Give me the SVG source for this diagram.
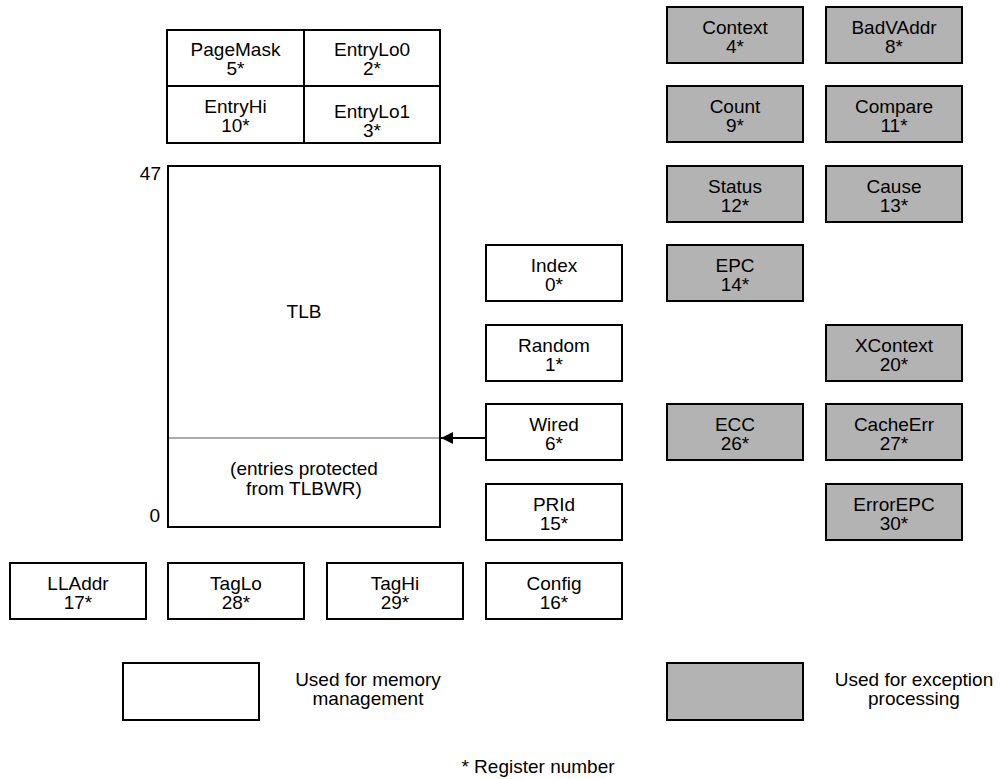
<svg xmlns="http://www.w3.org/2000/svg" width="1001" height="779" viewBox="0 0 1001 779">
<style>
.b{fill:#fff;stroke:#000;stroke-width:2}
.g{fill:#b3b3b3;stroke:#000;stroke-width:2}
text{font-family:"Liberation Sans",Arial,sans-serif;font-size:19px;fill:#000;text-anchor:middle}
.r{text-anchor:end}
</style>
<defs>
<marker id="ah" markerWidth="12" markerHeight="12" refX="12" refY="6" orient="auto" markerUnits="userSpaceOnUse">
<path d="M0,0 L12,6 L0,12 Z" fill="#000"/>
</marker>
</defs>
<rect width="1001" height="779" fill="#fff"/>

<g id="PageMask"><rect class="b" x="167" y="30" width="137" height="56"/><text x="235.5" y="56">PageMask</text><text x="235.5" y="75">5*</text></g>
<g id="EntryLo0"><rect class="b" x="304" y="30" width="136" height="56"/><text x="372" y="56">EntryLo0</text><text x="372" y="75">2*</text></g>
<g id="EntryHi"><rect class="b" x="167" y="86" width="137" height="57"/><text x="235.5" y="113">EntryHi</text><text x="235.5" y="132">10*</text></g>
<g id="EntryLo1"><rect class="b" x="304" y="86" width="136" height="57"/><text x="372" y="118">EntryLo1</text><text x="372" y="137">3*</text></g>

<g id="TLB">
<rect class="b" x="168" y="166" width="272" height="361"/>
<line x1="169" y1="438" x2="439" y2="438" stroke="#aaa" stroke-width="2"/>
<text x="304" y="318">TLB</text>
<text x="304" y="475">(entries protected</text>
<text x="304" y="495">from TLBWR)</text>
<text class="r" x="161" y="180">47</text>
<text class="r" x="160" y="522">0</text>
</g>

<g id="Context"><rect class="g" x="667" y="7" width="136" height="56"/><text x="735" y="34">Context</text><text x="735" y="53">4*</text></g>
<g id="BadVAddr"><rect class="g" x="826" y="7" width="136" height="56"/><text x="894" y="34">BadVAddr</text><text x="894" y="53">8*</text></g>
<g id="Count"><rect class="g" x="667" y="86" width="136" height="56"/><text x="735" y="113">Count</text><text x="735" y="132">9*</text></g>
<g id="Compare"><rect class="g" x="826" y="86" width="136" height="56"/><text x="894" y="113">Compare</text><text x="894" y="132">11*</text></g>
<g id="Status"><rect class="g" x="667" y="166" width="136" height="56"/><text x="735" y="193">Status</text><text x="735" y="212">12*</text></g>
<g id="Cause"><rect class="g" x="826" y="166" width="136" height="56"/><text x="894" y="193">Cause</text><text x="894" y="212">13*</text></g>
<g id="EPC"><rect class="g" x="667" y="245" width="136" height="56"/><text x="735" y="272">EPC</text><text x="735" y="291">14*</text></g>
<g id="XContext"><rect class="g" x="826" y="325" width="136" height="56"/><text x="894" y="352">XContext</text><text x="894" y="371">20*</text></g>
<g id="ECC"><rect class="g" x="667" y="404" width="136" height="56"/><text x="735" y="431">ECC</text><text x="735" y="450">26*</text></g>
<g id="CacheErr"><rect class="g" x="826" y="404" width="136" height="56"/><text x="894" y="431">CacheErr</text><text x="894" y="450">27*</text></g>
<g id="ErrorEPC"><rect class="g" x="826" y="484" width="136" height="56"/><text x="894" y="511">ErrorEPC</text><text x="894" y="530">30*</text></g>

<g id="Index"><rect class="b" x="486" y="245" width="136" height="56"/><text x="554" y="272">Index</text><text x="554" y="291">0*</text></g>
<g id="Random"><rect class="b" x="486" y="325" width="136" height="56"/><text x="554" y="352">Random</text><text x="554" y="371">1*</text></g>
<g id="Wired"><rect class="b" x="486" y="404" width="136" height="56"/><text x="554" y="431">Wired</text><text x="554" y="450">6*</text></g>
<g id="PRId"><rect class="b" x="486" y="484" width="136" height="56"/><text x="554" y="511">PRId</text><text x="554" y="530">15*</text></g>
<g id="Config"><rect class="b" x="486" y="563" width="136" height="56"/><text x="554" y="590">Config</text><text x="554" y="609">16*</text></g>
<g id="LLAddr"><rect class="b" x="10" y="563" width="136" height="56"/><text x="78" y="590">LLAddr</text><text x="78" y="609">17*</text></g>
<g id="TagLo"><rect class="b" x="168" y="563" width="136" height="56"/><text x="236" y="590">TagLo</text><text x="236" y="609">28*</text></g>
<g id="TagHi"><rect class="b" x="327" y="563" width="136" height="56"/><text x="395" y="590">TagHi</text><text x="395" y="609">29*</text></g>

<g id="connectors">
<line x1="485" y1="438" x2="441" y2="438" stroke="#000" stroke-width="2" marker-end="url(#ah)"/>
</g>

<g id="legend-memory"><rect class="b" x="123" y="663" width="136" height="57"/><text x="368" y="686">Used for memory</text><text x="368" y="705">management</text></g>
<g id="legend-exception"><rect class="g" x="667" y="663" width="136" height="57"/><text x="914" y="686">Used for exception</text><text x="914" y="705">processing</text></g>
<text x="538" y="773">* Register number</text>
</svg>
